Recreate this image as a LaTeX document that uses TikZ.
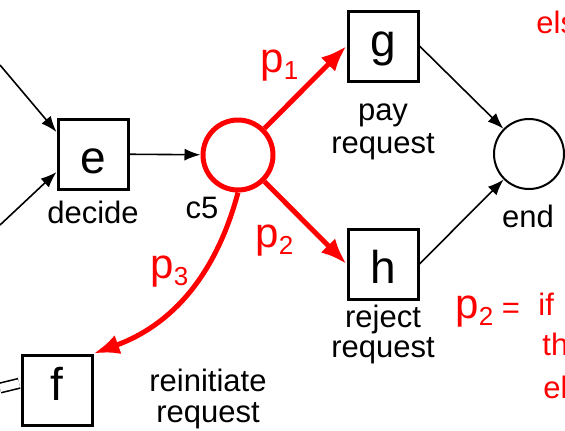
\documentclass[tikz,border=0pt]{standalone}
\usepackage{fontspec}
\setmainfont{Liberation Sans}
\usetikzlibrary{arrows.meta, positioning}

\newcommand{\pcond}[1]{p\raisebox{-3.5pt}{\fontsize{13}{13}\selectfont #1}}

\begin{document}
\begin{tikzpicture}[
        x=0.5pt,
        y=0.5pt,
        >={Latex[length=8pt, width=6pt]},
        trbox/.style={draw, line width=1.5pt, minimum size=35pt, inner sep=0pt,
            font=\fontsize{23}{23}\selectfont, text height=19pt, text depth=0pt},
        plcirc/.style={draw, circle, minimum size=35pt, inner sep=0pt},
        lbl/.style={anchor=base, inner sep=0pt, font=\fontsize{15.5}{15.5}\selectfont},
        cond/.style={red, anchor=base west, inner sep=0pt, font=\fontsize{21}{21}\selectfont},
        arc/.style={->, line width=0.8pt},
        choice/.style={-{Latex[length=13pt, width=10pt]}, red, line width=2.5pt}
    ]
        \useasboundingbox (0,0) rectangle (565,430);

        % --- Transitions ---
        \node[trbox] (e) at (93,276) {e};
        \node[trbox, text height=10.5pt] (g) at (383,384) {g};
        \node[trbox] (h) at (383,166) {h};
        \node[trbox, text height=10pt] (f) at (57,40) {f};

        % --- Places ---
        \node[plcirc, draw=red, line width=2.5pt] (c5) at (238,275) {};
        \node[plcirc, line width=1pt] (endpl) at (529,276) {};

        % --- Libellés ---
        \node[lbl] (decide) at (93,207) {decide};
        \node[lbl] (c5lbl) at (202,212) {c5};
        \node[lbl] (payA) at (383,310) {pay};
        \node[lbl] (payB) at (383,277) {request};
        \node[lbl] (rejA) at (383,103) {reject};
        \node[lbl] (rejB) at (383,73) {request};
        \node[lbl] (endlbl) at (528,203) {end};
        \node[lbl] (reinA) at (208,39) {reinitiate};
        \node[lbl] (reinB) at (208,8) {request};

        % --- Conditions ---
        \node[cond] (p1) at (260,358) {\pcond{1}};
        \node[cond] (p2) at (255,183) {\pcond{2}};
        \node[cond] (p3) at (150,152) {\pcond{3}};
        \node[cond] (p2def) at (455,112) {\pcond{2}{\fontsize{15.5}{15.5}\selectfont\ =}};
        \node[lbl, red, anchor=base west] (els) at (536,397) {els};
        \node[lbl, red, anchor=base west] (cif) at (538,115) {if};
        \node[lbl, red, anchor=base west] (cth) at (542,75) {th};
        \node[lbl, red, anchor=base west] (cel) at (543,32) {el};

        % --- Extrémités libres ---
        \coordinate (ine1) at (0,365);
        \coordinate (ine2) at (0,205);
        \coordinate (inf) at (0,42);

        % --- Arcs ---
        \draw[arc] (ine1) -- ([yshift=11pt]e.west);
        \draw[arc] (ine2) -- ([yshift=-9pt]e.west);
        \draw[arc] (e) -- (c5);
        \draw[arc] (g.east) -- (endpl);
        \draw[arc] (h.east) -- (endpl);
        \draw[line width=0.8pt, double, double distance=4pt, shorten >=0.7pt]
            (inf) -- ([yshift=3.5pt]f.west);

        % --- Choix en rouge ---
        \draw[choice] (c5) -- (g.west);
        \draw[choice] (c5) -- (h.west);
        \draw[choice] (c5.south) to[out=-105, in=20] (f.north east);

    \end{tikzpicture}
\end{document}
